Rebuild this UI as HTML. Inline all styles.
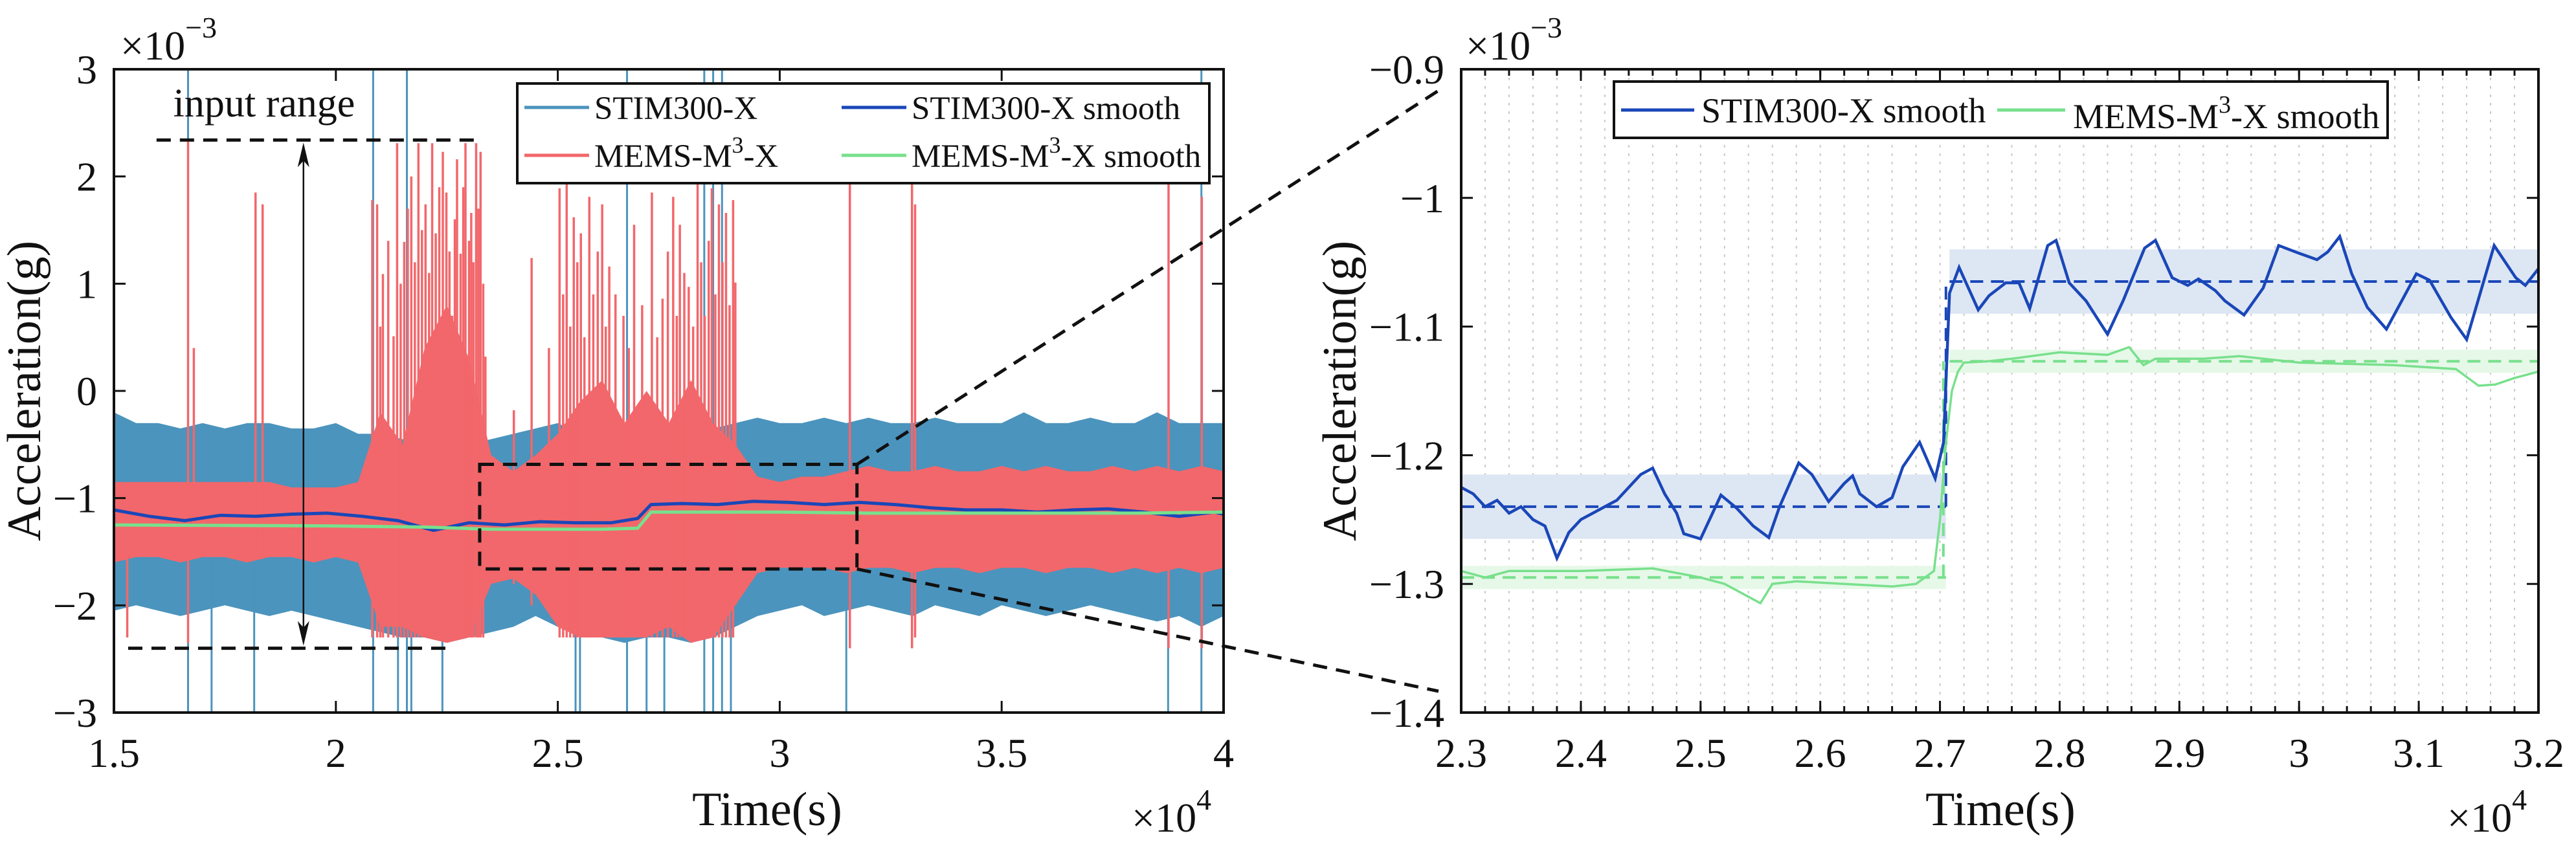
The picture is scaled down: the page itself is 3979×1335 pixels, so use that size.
<!DOCTYPE html>
<html><head><meta charset="utf-8"><title>Acceleration comparison</title>
<style>
html,body{margin:0;padding:0;background:#fff;}
svg{display:block;font-family:"Liberation Serif","Times New Roman",serif;}
</style></head>
<body>
<svg id="fig" xmlns="http://www.w3.org/2000/svg" width="3979" height="1335" viewBox="0 0 3979 1335">
<defs>
<clipPath id="clipL"><rect x="176" y="107" width="1714" height="994"/></clipPath>
<clipPath id="clipR"><rect x="2257" y="107" width="1664" height="994"/></clipPath>
</defs>
<g id="left"></g>
<g id="right"></g>
</svg>
<script>
// ---------- LEFT CHART DATA ----------
const gridT = [1.5,1.55,1.6,1.65,1.7,1.75,1.8,1.85,1.9,1.95,2.0,2.05,2.1,2.15,2.2,2.25,2.3,2.35,2.4,2.45,2.5,2.55,2.6,2.65,2.7,2.75,2.8,2.85,2.9,2.95,3.0,3.05,3.1,3.15,3.2,3.25,3.3,3.35,3.4,3.45,3.5,3.55,3.6,3.65,3.7,3.75,3.8,3.85,3.9,3.95,4.0];
const stimHi = [-0.2,-0.3,-0.3,-0.35,-0.3,-0.35,-0.3,-0.3,-0.35,-0.35,-0.3,-0.4,-0.4,-0.45,-0.5,-0.55,-0.5,-0.45,-0.4,-0.35,-0.3,-0.4,-0.35,-0.3,-0.3,-0.35,-0.3,-0.35,-0.3,-0.25,-0.3,-0.3,-0.25,-0.3,-0.25,-0.3,-0.3,-0.25,-0.3,-0.3,-0.3,-0.2,-0.3,-0.3,-0.25,-0.3,-0.3,-0.2,-0.3,-0.3,-0.3];
const stimLo = [-2.05,-2.0,-2.05,-2.1,-2.05,-2.0,-2.05,-2.1,-2.05,-2.1,-2.15,-2.2,-2.25,-2.3,-2.3,-2.35,-2.3,-2.25,-2.2,-2.1,-2.2,-2.3,-2.3,-2.35,-2.3,-2.3,-2.35,-2.3,-2.2,-2.1,-2.05,-2.0,-2.1,-2.05,-2.0,-2.05,-2.1,-2.0,-2.05,-2.1,-2.0,-2.05,-2.1,-2.05,-2.0,-2.05,-2.1,-2.15,-2.1,-2.2,-2.1];
const memsHi = [-0.85,-0.85,-0.85,-0.85,-0.85,-0.85,-0.85,-0.85,-0.9,-0.9,-0.9,-0.85,-0.2,-0.5,0.4,0.8,0.3,-0.6,-0.75,-0.6,-0.4,-0.1,0.1,-0.3,0.0,-0.3,0.1,-0.3,-0.5,-0.8,-0.85,-0.8,-0.8,-0.75,-0.7,-0.75,-0.75,-0.7,-0.75,-0.75,-0.7,-0.75,-0.7,-0.75,-0.75,-0.7,-0.75,-0.7,-0.75,-0.7,-0.75];
const memsLo = [-1.6,-1.55,-1.55,-1.6,-1.55,-1.55,-1.6,-1.55,-1.55,-1.6,-1.55,-1.6,-2.2,-2.2,-2.3,-2.35,-2.3,-1.8,-1.75,-1.9,-2.2,-2.3,-2.3,-2.3,-2.3,-2.2,-2.35,-2.3,-2.0,-1.7,-1.65,-1.65,-1.65,-1.7,-1.65,-1.65,-1.7,-1.65,-1.65,-1.7,-1.65,-1.65,-1.7,-1.65,-1.65,-1.7,-1.65,-1.7,-1.65,-1.7,-1.65];
const stimSpikeT   = [1.667,1.72,1.816,2.084,2.14,2.16,2.17,2.22,2.24,2.5,2.54,2.55,2.656,2.70,2.74,2.80,2.83,2.85,2.87,2.89,3.15,3.29,3.875,3.95];
const stimSpikeTop = [3,-1,-1,3,-1,3,-1,-1,-1,-1,-1,-1,3,-1,-1,-1,3,3,3,-1,-1,-1,-1,3];
const stimSpikeBot = [-3,-3,-3,-3,-3,-3,-3,-2.2,-3,-2.2,-3,-3,-3,-3,-3,-2.3,-3,-3,-3,-3,-3,-2.0,-3,-3];
const memsSpikeT   = [1.53,1.667,1.68,1.819,1.835,2.082,2.093,2.1,2.106,2.118,2.13,2.138,2.146,2.154,2.162,2.17,2.178,2.186,2.194,2.202,2.21,2.217,2.225,2.233,2.241,2.249,2.256,2.262,2.268,2.273,2.281,2.287,2.292,2.3,2.305,2.31,2.316,2.321,2.326,2.332,2.337,2.401,2.441,2.48,2.504,2.512,2.52,2.528,2.536,2.544,2.552,2.56,2.571,2.58,2.59,2.6,2.608,2.616,2.63,2.648,2.66,2.672,2.69,2.712,2.724,2.736,2.748,2.76,2.768,2.775,2.785,2.795,2.805,2.815,2.823,2.831,2.84,2.847,2.855,2.863,2.871,2.879,2.887,2.895,2.9,3.158,3.298,3.305,3.876,3.951];
const memsSpikeTop = [-1,2.33,0.4,1.85,1.74,1.78,1.74,0.6,1.09,1.4,0.51,2.31,1.0,1.39,1.7,2.0,1.2,2.31,1.5,1.74,1.1,2.31,1.47,1.9,2.23,1.85,1.3,0.7,1.6,2.16,1.28,1.9,2.31,1.4,1.66,1.2,2.31,1.7,2.23,1.0,0.32,-0.18,1.24,0.4,1.89,0.9,1.93,0.6,1.62,1.2,1.47,0.5,1.81,0.9,1.3,1.74,0.6,1.16,0.9,0.7,0.4,1.55,0.8,1.85,0.5,0.86,1.3,1.81,0.7,1.55,1.1,0.97,0.6,1.93,1.2,0.7,1.4,1.89,0.9,1.74,1.2,1.66,0.8,1.78,1.01,1.93,1.93,1.74,1.93,1.81];
const memsSpikeBot = [-2.3,-2.35,-1.5,-1.5,-1.5,-2.3,-2.3,-2.3,-2.3,-2.3,-2.3,-2.3,-2.3,-2.3,-2.3,-2.3,-2.3,-2.3,-2.3,-2.3,-2.3,-2.3,-2.3,-2.3,-2.3,-2.3,-2.3,-2.3,-2.3,-2.3,-2.3,-2.3,-2.3,-2.3,-2.3,-2.3,-2.3,-2.3,-2.3,-2.3,-1.8,-1.8,-2.0,-2.0,-2.3,-2.3,-2.3,-2.3,-2.3,-2.3,-2.3,-2.3,-2.3,-2.3,-2.3,-2.3,-2.3,-2.3,-2.3,-2.3,-2.3,-2.3,-2.3,-2.3,-2.3,-2.3,-2.3,-2.3,-2.3,-2.3,-2.3,-2.3,-2.3,-2.3,-2.3,-2.3,-2.3,-2.3,-2.3,-2.3,-2.3,-2.3,-2.3,-2.3,-2.0,-2.4,-2.4,-2.3,-2.4,-2.4];
const stimSmoothT = [1.5,1.58,1.66,1.74,1.82,1.9,1.98,2.06,2.14,2.22,2.3,2.38,2.46,2.54,2.62,2.68,2.71,2.78,2.86,2.94,3.02,3.1,3.18,3.26,3.34,3.42,3.5,3.58,3.66,3.74,3.82,3.9,3.98,4.0];
const stimSmoothV = [-1.11,-1.17,-1.21,-1.16,-1.17,-1.15,-1.14,-1.17,-1.21,-1.30,-1.23,-1.25,-1.22,-1.23,-1.23,-1.19,-1.06,-1.05,-1.06,-1.03,-1.04,-1.06,-1.04,-1.06,-1.09,-1.11,-1.11,-1.13,-1.11,-1.10,-1.13,-1.17,-1.13,-1.15];
const memsSmoothT = [1.5,2.0,2.2,2.35,2.6,2.68,2.71,2.8,3.0,3.2,3.5,3.8,4.0];
const memsSmoothV = [-1.25,-1.26,-1.27,-1.29,-1.29,-1.28,-1.13,-1.13,-1.13,-1.14,-1.14,-1.14,-1.13];
const leftXTicks = [1.5,2,2.5,3,3.5,4];
const leftXLabels = ["1.5","2","2.5","3","3.5","4"];
const leftYTicks = [3,2,1,0,-1,-2,-3];
const leftYLabels = ["3","2","1","0","\u22121","\u22122","\u22123"];

// ---------- RIGHT CHART DATA ----------
const zStimT = [2.30,2.31,2.32,2.33,2.34,2.35,2.36,2.37,2.38,2.39,2.40,2.41,2.42,2.43,2.44,2.45,2.46,2.47,2.48,2.486,2.50,2.517,2.53,2.544,2.557,2.566,2.582,2.593,2.607,2.62,2.627,2.633,2.647,2.66,2.669,2.683,2.696,2.703,2.708,2.716,2.732,2.741,2.755,2.766,2.775,2.79,2.797,2.808,2.822,2.84,2.853,2.871,2.88,2.894,2.907,2.916,2.93,2.938,2.954,2.97,2.983,3.0,3.015,3.024,3.034,3.044,3.057,3.073,3.098,3.109,3.127,3.14,3.163,3.181,3.189,3.2];
const zStimV = [-1.225,-1.23,-1.24,-1.235,-1.245,-1.24,-1.25,-1.255,-1.28,-1.26,-1.25,-1.245,-1.24,-1.235,-1.225,-1.215,-1.21,-1.23,-1.245,-1.261,-1.265,-1.231,-1.241,-1.255,-1.264,-1.240,-1.206,-1.215,-1.236,-1.222,-1.216,-1.23,-1.24,-1.233,-1.209,-1.19,-1.218,-1.19,-1.074,-1.054,-1.087,-1.076,-1.066,-1.066,-1.086,-1.037,-1.033,-1.066,-1.08,-1.106,-1.08,-1.039,-1.033,-1.062,-1.068,-1.063,-1.072,-1.08,-1.091,-1.07,-1.037,-1.043,-1.048,-1.042,-1.03,-1.059,-1.085,-1.102,-1.059,-1.064,-1.093,-1.11,-1.037,-1.062,-1.068,-1.055];
const zMemsT = [2.30,2.32,2.34,2.40,2.46,2.50,2.52,2.54,2.55,2.56,2.58,2.62,2.66,2.68,2.695,2.70,2.705,2.71,2.715,2.72,2.74,2.76,2.80,2.84,2.858,2.87,2.88,2.92,2.95,3.00,3.08,3.131,3.15,3.164,3.18,3.20];
const zMemsV = [-1.29,-1.295,-1.29,-1.29,-1.288,-1.295,-1.30,-1.31,-1.315,-1.30,-1.298,-1.30,-1.302,-1.30,-1.29,-1.25,-1.19,-1.15,-1.135,-1.128,-1.127,-1.125,-1.12,-1.122,-1.116,-1.13,-1.125,-1.125,-1.123,-1.128,-1.13,-1.133,-1.146,-1.145,-1.14,-1.135];
const bandT0 = [2.30,2.708];
const bandT1 = [2.705,3.20];
const stimMean = [-1.24,-1.065];
const stimHalf = [0.025,0.025];
const memsMean = [-1.295,-1.127];
const memsHalf = [0.009,0.009];
const rightXTicks = [2.3,2.4,2.5,2.6,2.7,2.8,2.9,3.0,3.1,3.2];
const rightXLabels = ["2.3","2.4","2.5","2.6","2.7","2.8","2.9","3","3.1","3.2"];
const rightYTicks = [-0.9,-1.0,-1.1,-1.2,-1.3,-1.4];
const rightYLabels = ["\u22120.9","\u22121","\u22121.1","\u22121.2","\u22121.3","\u22121.4"];

// ---------- helpers ----------
const NS = "http://www.w3.org/2000/svg";
const L = {x0:176,x1:1890,y0:107,y1:1101,xmin:1.5,xmax:4,ymin:-3,ymax:3};
const R = {x0:2257,x1:3921,y0:107,y1:1101,xmin:2.3,xmax:3.2,ymin:-1.4,ymax:-0.9};
function sx(a,v){return a.x0+(v-a.xmin)/(a.xmax-a.xmin)*(a.x1-a.x0);}
function sy(a,v){return a.y1-(v-a.ymin)/(a.ymax-a.ymin)*(a.y1-a.y0);}
function mk(parent,tag,attrs){const e=document.createElementNS(NS,tag);for(const k in attrs)e.setAttribute(k,attrs[k]);parent.appendChild(e);return e;}
function txt(parent,x,y,s,size,anchor){const t=mk(parent,"text",{x:x,y:y,"font-size":size,"text-anchor":anchor||"middle",fill:"#111"});t.textContent=s;return t;}
function pathOf(a,ts,vs){return ts.map((t,i)=>(i?"L":"M")+sx(a,t).toFixed(1)+","+sy(a,vs[i]).toFixed(1)).join("");}

const gL = document.getElementById("left");
const gR = document.getElementById("right");

// ================= LEFT =================
const plotL = mk(gL,"g",{"clip-path":"url(#clipL)"});



let d = pathOf(L,gridT,stimHi)+gridT.slice().reverse().map((t,i)=>"L"+sx(L,t).toFixed(1)+","+sy(L,stimLo[gridT.length-1-i]).toFixed(1)).join("")+"Z";
const stimBand = mk(plotL,"path",{d:d,fill:"#4b94bd"});


stimSpikeT.forEach((t,i)=>{
  const ln = mk(plotL,"line",{x1:sx(L,t),x2:sx(L,t),y1:sy(L,stimSpikeTop[i]),y2:sy(L,stimSpikeBot[i]),stroke:"#4b94bd","stroke-width":3});
  
  
});
d = pathOf(L,gridT,memsHi)+gridT.slice().reverse().map((t,i)=>"L"+sx(L,t).toFixed(1)+","+sy(L,memsLo[gridT.length-1-i]).toFixed(1)).join("")+"Z";
const memsBand = mk(plotL,"path",{d:d,fill:"#f2676b"});


memsSpikeT.forEach((t,i)=>{
  const ln = mk(plotL,"line",{x1:sx(L,t),x2:sx(L,t),y1:sy(L,memsSpikeTop[i]),y2:sy(L,memsSpikeBot[i]),stroke:"#f2676b","stroke-width":3.5});
  
  
});
const lsm = mk(plotL,"path",{d:pathOf(L,stimSmoothT,stimSmoothV),fill:"none",stroke:"#1a47b8","stroke-width":5});


const lgm = mk(plotL,"path",{d:pathOf(L,memsSmoothT,memsSmoothV),fill:"none",stroke:"#78e08c","stroke-width":5});



// annotations
const ann = mk(gL,"g",{stroke:"#111","stroke-width":5,"stroke-dasharray":"22,14",fill:"none"});


mk(ann,"line",{x1:sx(L,1.596),x2:sx(L,2.32),y1:sy(L,2.34),y2:sy(L,2.34)});
mk(ann,"line",{x1:sx(L,1.532),x2:sx(L,2.257),y1:sy(L,-2.40),y2:sy(L,-2.40)});
const arrow = mk(gL,"g",{});


const ax = sx(L,1.927), ayT = sy(L,2.34)+4, ayB = sy(L,-2.40)-4;
mk(arrow,"line",{x1:ax,x2:ax,y1:ayT+20,y2:ayB-20,stroke:"#111","stroke-width":2.5});
mk(arrow,"path",{d:`M${ax},${ayT} L${ax-9},${ayT+38} L${ax},${ayT+28} L${ax+9},${ayT+38}Z`,fill:"#111"});
mk(arrow,"path",{d:`M${ax},${ayB} L${ax-9},${ayB-38} L${ax},${ayB-28} L${ax+9},${ayB-38}Z`,fill:"#111"});
const irt = txt(gL,408,180,"input range",62);



const zbox = mk(gL,"rect",{x:sx(L,2.324),y:sy(L,-0.685),width:sx(L,3.174)-sx(L,2.324),height:sy(L,-1.661)-sy(L,-0.685),fill:"none",stroke:"#111","stroke-width":5,"stroke-dasharray":"22,14"});


const con = mk(document.getElementById("fig"),"g",{stroke:"#111","stroke-width":5,"stroke-dasharray":"22,14"});


mk(con,"line",{x1:sx(L,3.174),y1:sy(L,-0.685),x2:2222,y2:140});
mk(con,"line",{x1:sx(L,3.174),y1:sy(L,-1.661),x2:2222,y2:1068});

// axes frame & ticks
function drawAxes(g,a,xt,xl,yt,yl,minorX,name){
  const fr = mk(g,"rect",{x:a.x0,y:a.y0,width:a.x1-a.x0,height:a.y1-a.y0,fill:"none",stroke:"#111","stroke-width":4});
  
  
  const tg = mk(g,"g",{stroke:"#111","stroke-width":3});
  
  
  xt.forEach((v,i)=>{
    const x=sx(a,v);
    mk(tg,"line",{x1:x,x2:x,y1:a.y1,y2:a.y1-18});
    mk(tg,"line",{x1:x,x2:x,y1:a.y0,y2:a.y0+18});
    const t=txt(g,x,1185,xl[i],64);
    
    
  });
  minorX.forEach(v=>{
    const x=sx(a,v);
    mk(tg,"line",{x1:x,x2:x,y1:a.y1,y2:a.y1-10});
    mk(tg,"line",{x1:x,x2:x,y1:a.y0,y2:a.y0+10});
  });
  yt.forEach((v,i)=>{
    const y=sy(a,v);
    mk(tg,"line",{x1:a.x0,x2:a.x0+18,y1:y,y2:y});
    mk(tg,"line",{x1:a.x1,x2:a.x1-18,y1:y,y2:y});
    const t=txt(g,a.x0-26,y+22,yl[i],64,"end");
    
    
  });
}
drawAxes(gL,L,leftXTicks,leftXLabels,leftYTicks,leftYLabels,[],"left");

function sciLabel(g,x,y,exp,name){
  const t=mk(g,"text",{x:x,y:y,"font-size":64,fill:"#111"});
  t.innerHTML='\u00d710<tspan dy="-34" font-size="46">'+exp+'</tspan>';
  
  
}
sciLabel(gL,186,92,"\u22123","left-y-exponent");
sciLabel(gL,1748,1285,"4","left-x-exponent");
const xtl = txt(gL,1185,1275,"Time(s)",74);


const ytl = txt(gL,0,0,"Acceleration(g)",74);
ytl.setAttribute("transform","translate(62,604) rotate(-90)");



// left legend
const legL = mk(gL,"g",{});


mk(legL,"rect",{x:799,y:129,width:1069,height:154,fill:"#fff",stroke:"#111","stroke-width":4});
const legItems = [
 {x:810,y:166,c:"#4b94bd",s:"STIM300-X",n:"legend-entry-stim300-x"},
 {x:1300,y:166,c:"#1a47b8",s:"STIM300-X smooth",n:"legend-entry-stim300-x-smooth"},
 {x:810,y:240,c:"#f2676b",s:"MEMS-M|-X",n:"legend-entry-mems-m3-x"},
 {x:1300,y:240,c:"#78e08c",s:"MEMS-M|-X smooth",n:"legend-entry-mems-m3-x-smooth"}];
legItems.forEach(it=>{
  const g=mk(legL,"g",{});
  
  
  mk(g,"line",{x1:it.x,x2:it.x+100,y1:it.y,y2:it.y,stroke:it.c,"stroke-width":5});
  const t=mk(g,"text",{x:it.x+108,y:it.y+18,"font-size":51,fill:"#111"});
  const p=it.s.split("|");
  if(p.length>1){t.innerHTML=p[0]+'<tspan dy="-22" font-size="36">3</tspan><tspan dy="22">'+p[1]+'</tspan>';}
  else t.textContent=it.s;
});

// ================= RIGHT =================
const plotR = mk(gR,"g",{"clip-path":"url(#clipR)"});


const gridG = mk(plotR,"g",{stroke:"#c9c9c9","stroke-width":2,"stroke-dasharray":"4,9"});


const minorR=[];
for(let k=0;k<=45;k++){const v=+(2.3+k*0.02).toFixed(2); minorR.push(v);}
minorR.forEach(v=>mk(gridG,"line",{x1:sx(R,v),x2:sx(R,v),y1:R.y0,y2:R.y1}));
bandT0.forEach((t0,i)=>{
  const b=mk(plotR,"rect",{x:sx(R,t0),y:sy(R,stimMean[i]+stimHalf[i]),width:sx(R,bandT1[i])-sx(R,t0),height:sy(R,stimMean[i]-stimHalf[i])-sy(R,stimMean[i]+stimHalf[i]),fill:"#dde6f3"});
  
  
  const g2=mk(plotR,"rect",{x:sx(R,t0),y:sy(R,memsMean[i]+memsHalf[i]),width:sx(R,bandT1[i])-sx(R,t0),height:sy(R,memsMean[i]-memsHalf[i])-sy(R,memsMean[i]+memsHalf[i]),fill:"#e6f8e8"});
  
  
});
const meanG = mk(plotR,"g",{"stroke-width":4,"stroke-dasharray":"20,12",fill:"none"});


bandT0.forEach((t0,i)=>{
  mk(meanG,"line",{x1:sx(R,t0),x2:sx(R,bandT1[i]),y1:sy(R,stimMean[i]),y2:sy(R,stimMean[i]),stroke:"#1a47b8"});
  mk(meanG,"line",{x1:sx(R,t0),x2:sx(R,bandT1[i]),y1:sy(R,memsMean[i]),y2:sy(R,memsMean[i]),stroke:"#78e08c"});
});
mk(meanG,"line",{x1:sx(R,bandT1[0]),x2:sx(R,bandT1[0]),y1:sy(R,stimMean[0]),y2:sy(R,stimMean[1]),stroke:"#1a47b8"});
mk(meanG,"line",{x1:sx(R,bandT1[0])-4,x2:sx(R,bandT1[0])-4,y1:sy(R,memsMean[0]),y2:sy(R,memsMean[1]),stroke:"#78e08c"});
const zg = mk(plotR,"path",{d:pathOf(R,zMemsT,zMemsV),fill:"none",stroke:"#78e08c","stroke-width":3.5});


const zb = mk(plotR,"path",{d:pathOf(R,zStimT,zStimV),fill:"none",stroke:"#1a47b8","stroke-width":4.5});



drawAxes(gR,R,rightXTicks,rightXLabels,rightYTicks,rightYLabels,minorR,"right");
sciLabel(gR,2264,92,"\u22123","right-y-exponent");
sciLabel(gR,3780,1285,"4","right-x-exponent");
const xtr = txt(gR,3090,1275,"Time(s)",74);


const ytr = txt(gR,0,0,"Acceleration(g)",74);
ytr.setAttribute("transform","translate(2094,604) rotate(-90)");



const legR = mk(gR,"g",{});


mk(legR,"rect",{x:2493,y:126,width:1195,height:87,fill:"#fff",stroke:"#111","stroke-width":4});
const r1=mk(legR,"g",{});


mk(r1,"line",{x1:2504,x2:2617,y1:170,y2:170,stroke:"#1a47b8","stroke-width":5});
const rt1=mk(r1,"text",{x:2628,y:189,"font-size":54,fill:"#111"}); rt1.textContent="STIM300-X smooth";
const r2=mk(legR,"g",{});


mk(r2,"line",{x1:3085,x2:3190,y1:170,y2:170,stroke:"#78e08c","stroke-width":5});
const rt2=mk(r2,"text",{x:3202,y:198,"font-size":54,fill:"#111"});
rt2.innerHTML='MEMS-M<tspan dy="-24" font-size="38">3</tspan><tspan dy="24">-X smooth</tspan>';
</script>
</body></html>
